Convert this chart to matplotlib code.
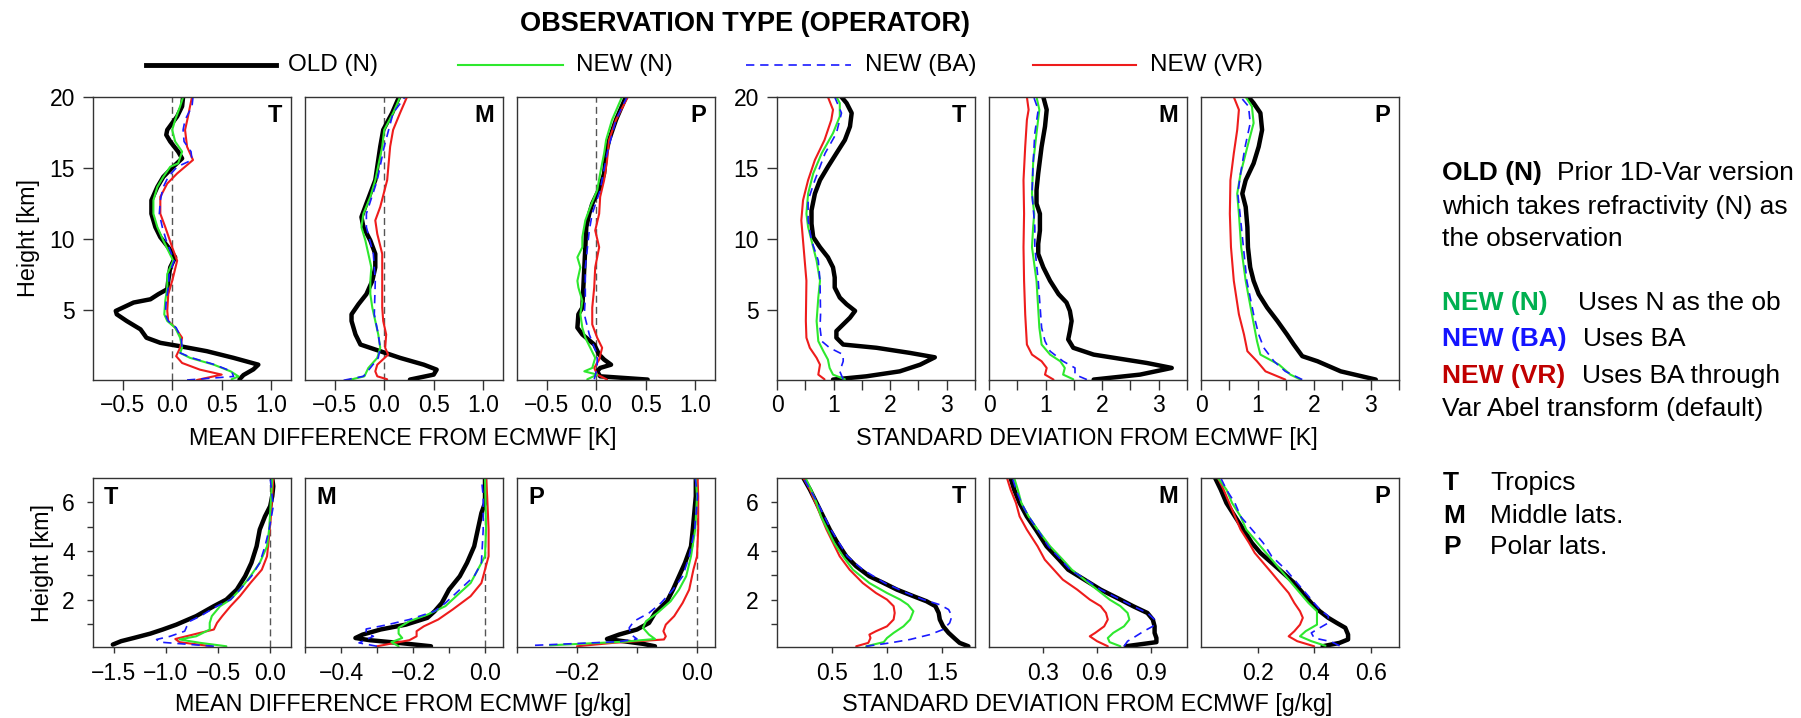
import numpy as np
import matplotlib.pyplot as plt
from matplotlib.lines import Line2D

plt.rcParams['font.family'] = ['Liberation Sans', 'DejaVu Sans']

W, H = 1801, 718

series_names = ['OLD (N)', 'NEW (N)', 'NEW (BA)', 'NEW (VR)']
series_colors = ['#000000', '#2ee82e', '#1a1aff', '#ee1c1c']
series_widths = [3.2, 1.5, 1.2, 1.5]
series_dashes = [None, None, (5, 3.5), None]
draw_order = [0, 3, 1, 2]

# ---- temperature, mean difference (height km, value K) ----
tmean_trop_old = [(0.1, 0.68), (0.4, 0.72), (0.8, 0.82), (1.13, 0.87), (1.61, 0.62), (2.08, 0.35), (2.43, 0.08),
                  (2.67, -0.12), (3.03, -0.26), (3.62, -0.32), (4.21, -0.46), (4.68, -0.56), (4.92, -0.57),
                  (5.51, -0.39), (5.74, -0.22), (6.1, -0.14), (6.45, -0.05), (7.04, -0.04), (7.99, -0.02),
                  (8.7, 0.03), (9.41, -0.04), (10.12, -0.12), (10.83, -0.17), (11.77, -0.21), (12.72, -0.21),
                  (13.66, -0.15), (14.37, -0.09), (15.08, 0.01), (15.67, 0.1), (16.15, 0.06), (16.86, -0.02),
                  (17.33, -0.06), (17.68, -0.05), (18.16, 0.0), (18.63, 0.05), (19.34, 0.1), (20.0, 0.11)]
tmean_trop_n = [(0.1, 0.6), (0.3, 0.67), (0.66, 0.59), (1.13, 0.42), (1.61, 0.18), (1.96, 0.08), (2.32, 0.1),
                (3.03, 0.08), (3.74, 0.03), (4.21, -0.05), (4.68, -0.08), (5.63, -0.07), (6.57, -0.05),
                (7.52, -0.05), (8.46, 0.01), (9.17, -0.04), (9.88, -0.09), (10.83, -0.15), (11.77, -0.19),
                (12.72, -0.19), (13.66, -0.15), (14.37, -0.09), (15.08, -0.02), (15.32, 0.06), (16.15, 0.1),
                (16.86, 0.03), (17.68, 0.0), (18.39, 0.03), (19.34, 0.08), (20.0, 0.11)]
tmean_trop_ba = [(0.05, 0.15), (0.3, 0.62), (0.66, 0.6), (1.13, 0.43), (1.61, 0.2), (1.96, 0.08), (2.32, 0.1),
                 (3.03, 0.09), (3.74, 0.04), (4.21, -0.04), (4.68, -0.07), (5.63, -0.06), (6.57, -0.04),
                 (7.52, -0.03), (8.46, 0.02), (9.17, -0.02), (9.88, -0.06), (10.83, -0.1), (11.77, -0.13),
                 (12.72, -0.12), (13.66, -0.09), (14.37, -0.04), (15.08, 0.05), (15.56, 0.2), (16.15, 0.19),
                 (16.86, 0.12), (17.68, 0.11), (18.39, 0.13), (19.34, 0.2), (20.0, 0.21)]
tmean_trop_vr = [(0.05, 0.25), (0.43, 0.5), (0.78, 0.28), (1.25, 0.1), (1.73, 0.04), (2.32, 0.08), (3.03, 0.1),
                 (3.74, 0.03), (4.21, -0.04), (4.92, -0.05), (6.1, -0.04), (7.04, 0.0), (8.46, 0.05),
                 (9.41, 0.0), (10.83, -0.07), (11.77, -0.12), (12.96, -0.12), (13.9, -0.05), (14.61, 0.05),
                 (15.56, 0.21), (16.5, 0.15), (17.68, 0.13), (18.63, 0.16), (19.34, 0.18), (20.0, 0.2)]

tmean_mid_old = [(0.08, 0.26), (0.43, 0.5), (0.78, 0.53), (1.13, 0.4), (1.61, 0.16), (2.08, -0.04), (2.55, -0.24),
                 (3.26, -0.29), (4.21, -0.33), (4.68, -0.33), (5.39, -0.26), (6.1, -0.18), (7.04, -0.12),
                 (7.99, -0.09), (8.94, -0.09), (9.88, -0.14), (10.83, -0.21), (11.54, -0.23), (12.48, -0.18),
                 (14.14, -0.09), (16.5, -0.04), (17.68, -0.01), (18.87, 0.08), (20.0, 0.15)]
tmean_mid_n = [(0.06, -0.35), (0.31, -0.2), (0.9, -0.16), (1.61, -0.07), (2.32, -0.04), (3.26, -0.06),
               (4.21, -0.09), (5.15, -0.12), (6.1, -0.14), (7.04, -0.14), (7.99, -0.13), (8.94, -0.16),
               (9.88, -0.19), (10.83, -0.23), (11.77, -0.21), (12.96, -0.14), (14.14, -0.09), (16.5, -0.02),
               (17.68, 0.0), (18.87, 0.09), (20.0, 0.16)]
tmean_mid_ba = [(0.03, -0.41), (0.31, -0.21), (0.9, -0.14), (1.61, -0.06), (2.32, -0.04), (3.26, -0.06),
                (4.68, -0.1), (7.04, -0.09), (8.94, -0.11), (10.83, -0.18), (11.77, -0.18), (14.14, -0.07),
                (16.5, 0.0), (18.87, 0.09), (20.0, 0.21)]
tmean_mid_vr = [(0.1, 0.03), (0.31, -0.07), (0.66, -0.09), (1.13, -0.07), (1.84, 0.04), (2.32, 0.01), (3.26, 0.02),
                (4.21, -0.01), (5.15, -0.02), (7.04, -0.02), (8.94, -0.02), (10.35, -0.07), (11.3, -0.09),
                (12.25, -0.04), (14.14, 0.03), (16.5, 0.06), (17.68, 0.09), (18.87, 0.16), (20.0, 0.23)]

tmean_pol_old = [(0.08, 0.52), (0.31, 0.04), (0.66, 0.01), (0.9, 0.04), (1.13, 0.15), (1.49, 0.08), (1.84, 0.03),
                 (2.55, -0.02), (3.26, -0.14), (3.74, -0.19), (4.68, -0.18), (5.15, -0.14), (6.57, -0.13),
                 (7.99, -0.12), (9.41, -0.11), (10.83, -0.1), (11.77, -0.07), (12.48, -0.04), (13.66, 0.04),
                 (14.61, 0.08), (16.03, 0.1), (16.97, 0.13), (18.39, 0.2), (20.0, 0.3)]
tmean_pol_n = [(0.1, -0.09), (0.43, 0.01), (0.66, -0.12), (0.9, -0.04), (1.61, -0.01), (2.32, -0.06),
               (3.03, -0.11), (3.74, -0.14), (4.68, -0.16), (5.63, -0.14), (6.57, -0.18), (7.04, -0.19),
               (7.99, -0.16), (8.7, -0.19), (9.41, -0.14), (10.12, -0.14), (11.3, -0.11), (12.25, -0.06),
               (13.43, 0.01), (14.61, 0.04), (16.03, 0.08), (16.97, 0.1), (18.39, 0.16), (20.0, 0.26)]
tmean_pol_ba = [(0.1, -0.02), (0.9, 0.01), (1.84, 0.01), (3.26, -0.07), (4.68, -0.12), (5.86, -0.11),
                (7.99, -0.11), (10.59, -0.07), (11.77, -0.04), (13.43, 0.04), (16.03, 0.11), (18.39, 0.2),
                (20.0, 0.31)]
tmean_pol_vr = [(0.08, 0.11), (0.43, 0.01), (0.9, -0.02), (1.49, 0.03), (2.32, 0.06), (3.03, 0.01), (3.97, -0.04),
                (5.15, -0.04), (6.57, -0.02), (7.99, -0.01), (9.41, 0.03), (10.59, -0.01), (11.77, 0.03),
                (12.96, 0.04), (14.14, 0.08), (15.56, 0.11), (16.97, 0.13), (18.39, 0.2), (20.0, 0.32)]

# ---- temperature, standard deviation (height km, value K) ----
tstd_trop_old = [(0.08, 0.99), (0.31, 1.58), (0.66, 2.17), (1.13, 2.53), (1.65, 2.79), (1.96, 2.35), (2.32, 1.76),
                 (2.55, 1.17), (3.03, 1.05), (3.5, 1.05), (3.97, 1.17), (4.44, 1.29), (4.92, 1.38), (5.39, 1.23),
                 (5.86, 1.11), (6.57, 1.02), (7.28, 1.02), (7.99, 0.99), (8.7, 0.9), (9.41, 0.76), (10.12, 0.64),
                 (11.06, 0.61), (12.01, 0.61), (13.19, 0.67), (14.14, 0.76), (15.08, 0.9), (16.03, 1.05),
                 (16.97, 1.2), (17.92, 1.29), (18.87, 1.32), (19.57, 1.23), (20.0, 1.14)]
tstd_trop_n = [(0.1, 1.2), (0.43, 0.99), (0.9, 0.93), (1.49, 0.9), (2.08, 0.82), (2.79, 0.73), (4.21, 0.7),
               (5.86, 0.73), (7.04, 0.76), (8.46, 0.7), (9.41, 0.64), (10.83, 0.55), (11.77, 0.52), (13.19, 0.55),
               (14.61, 0.64), (16.03, 0.79), (17.45, 0.99), (18.63, 1.11), (19.57, 1.11), (20.0, 1.05)]
tstd_trop_ba = [(0.1, 1.17), (0.66, 1.11), (1.37, 1.17), (1.84, 1.17), (2.32, 0.93), (2.79, 0.79), (3.74, 0.76),
                (4.68, 0.77), (7.04, 0.76), (8.46, 0.73), (9.88, 0.61), (11.3, 0.55), (12.72, 0.55),
                (14.14, 0.67), (16.03, 0.85), (17.45, 1.05), (18.87, 1.14), (20.0, 1.02)]
tstd_trop_vr = [(0.1, 0.84), (0.43, 0.73), (1.13, 0.76), (1.61, 0.7), (2.32, 0.58), (3.03, 0.52), (4.21, 0.51),
                (7.04, 0.52), (9.41, 0.47), (11.3, 0.43), (12.72, 0.46), (14.14, 0.55), (15.56, 0.67),
                (16.97, 0.84), (18.39, 0.96), (19.1, 0.99), (20.0, 0.9)]

tstd_mid_old = [(0.08, 1.85), (0.43, 2.67), (0.9, 3.23), (1.25, 2.79), (1.84, 1.85), (2.32, 1.49), (2.91, 1.4),
                (3.5, 1.43), (4.21, 1.46), (4.92, 1.43), (5.51, 1.37), (6.1, 1.23), (7.04, 1.08), (7.99, 0.96),
                (8.94, 0.87), (9.65, 0.87), (10.59, 0.9), (11.77, 0.9), (12.48, 0.84), (13.43, 0.84),
                (14.61, 0.87), (16.5, 0.93), (17.92, 0.99), (19.1, 1.02), (20.0, 0.96)]
tstd_mid_n = [(0.1, 1.49), (0.43, 1.31), (0.9, 1.34), (1.37, 1.26), (1.84, 1.08), (2.55, 0.93), (3.74, 0.89),
              (7.04, 0.84), (9.41, 0.76), (10.83, 0.78), (11.77, 0.8), (13.19, 0.76), (15.32, 0.78),
              (17.45, 0.84), (19.1, 0.89), (20.0, 0.84)]
tstd_mid_ba = [(0.08, 1.73), (0.43, 1.52), (0.9, 1.52), (1.37, 1.31), (2.08, 1.08), (2.79, 0.99), (3.74, 0.93),
               (7.04, 0.87), (9.41, 0.81), (10.83, 0.81), (13.19, 0.76), (15.32, 0.78), (17.45, 0.81),
               (19.1, 0.87), (20.0, 0.79)]
tstd_mid_vr = [(0.08, 1.14), (0.43, 0.99), (0.9, 1.02), (1.37, 0.93), (1.84, 0.76), (2.55, 0.67), (4.68, 0.64),
               (7.04, 0.62), (9.41, 0.61), (11.77, 0.62), (14.14, 0.61), (16.5, 0.64), (18.39, 0.67),
               (19.1, 0.7), (20.0, 0.67)]

tstd_pol_old = [(0.08, 3.09), (0.66, 2.47), (1.37, 2.06), (1.73, 1.79), (2.55, 1.64), (3.26, 1.52), (4.21, 1.35),
                (5.15, 1.17), (6.1, 1.02), (7.04, 0.93), (7.99, 0.87), (9.41, 0.83), (10.83, 0.82), (12.25, 0.79),
                (13.19, 0.73), (14.14, 0.79), (15.32, 0.93), (16.5, 1.02), (17.68, 1.08), (18.87, 1.05),
                (19.57, 0.93), (20.0, 0.84)]
tstd_pol_n = [(0.08, 1.76), (0.43, 1.58), (1.13, 1.38), (1.84, 1.05), (2.79, 0.99), (4.68, 0.9), (7.04, 0.79),
              (9.41, 0.71), (11.77, 0.67), (13.19, 0.64), (14.61, 0.7), (16.5, 0.82), (18.16, 0.93),
              (19.34, 0.9), (20.0, 0.79)]
tstd_pol_ba = [(0.08, 1.79), (0.66, 1.49), (1.37, 1.29), (2.32, 1.11), (3.26, 1.02), (4.68, 0.93), (7.04, 0.81),
               (9.41, 0.75), (11.77, 0.69), (13.19, 0.65), (14.61, 0.7), (16.5, 0.78), (18.16, 0.87),
               (19.34, 0.84), (20.0, 0.7)]
tstd_pol_vr = [(0.08, 1.49), (0.66, 1.14), (1.37, 0.99), (2.08, 0.82), (3.26, 0.76), (4.68, 0.67), (7.04, 0.58),
               (9.41, 0.53), (11.77, 0.51), (14.14, 0.52), (16.03, 0.58), (17.68, 0.64), (19.1, 0.67),
               (20.0, 0.58)]

# ---- humidity, mean difference (height km, value g/kg) ----
qmean_trop_old = [(0.15, -1.51), (0.29, -1.43), (0.42, -1.31), (0.6, -1.15), (0.77, -1.03), (0.97, -0.9),
                  (1.32, -0.71), (1.73, -0.54), (2.0, -0.42), (2.41, -0.32), (2.96, -0.24), (3.51, -0.18),
                  (4.19, -0.13), (4.88, -0.1), (5.42, -0.05), (5.84, 0.0), (6.25, 0.02), (6.66, 0.03), (7.0, 0.02)]
qmean_trop_n = [(0.08, -0.42), (0.22, -0.67), (0.36, -0.87), (0.49, -0.71), (0.77, -0.58), (1.04, -0.58),
                (1.32, -0.56), (1.73, -0.48), (2.0, -0.38), (2.41, -0.29), (2.96, -0.19), (3.51, -0.1),
                (4.19, -0.03), (4.88, -0.01), (5.56, 0.0), (7.0, 0.02)]
qmean_trop_ba = [(0.08, -0.54), (0.25, -1.06), (0.36, -1.09), (0.49, -0.96), (0.7, -0.82), (0.9, -0.8),
                 (1.11, -0.77), (1.32, -0.67), (1.73, -0.51), (2.0, -0.38), (2.41, -0.29), (2.96, -0.18),
                 (3.51, -0.1), (4.19, -0.05), (4.88, -0.01), (5.84, 0.03), (7.0, 0.0)]
qmean_trop_vr = [(0.08, -0.56), (0.25, -0.87), (0.38, -0.91), (0.56, -0.74), (0.77, -0.54), (1.04, -0.51),
                 (1.32, -0.46), (1.73, -0.38), (2.14, -0.29), (2.68, -0.19), (3.23, -0.08), (3.78, -0.03),
                 (4.6, -0.01), (5.56, 0.01), (7.0, 0.03)]

qmean_mid_old = [(0.08, -0.15), (0.22, -0.24), (0.33, -0.32), (0.42, -0.36), (0.56, -0.34), (0.77, -0.29),
                 (0.97, -0.22), (1.25, -0.16), (1.52, -0.14), (1.86, -0.12), (2.41, -0.1), (2.96, -0.07),
                 (3.51, -0.05), (4.19, -0.03), (4.88, -0.02), (5.56, -0.01), (5.97, 0.0), (7.0, 0.0)]
qmean_mid_n = [(0.08, -0.24), (0.25, -0.26), (0.42, -0.23), (0.6, -0.24), (0.84, -0.24), (1.11, -0.21),
               (1.38, -0.16), (1.73, -0.11), (2.14, -0.08), (2.68, -0.04), (3.23, -0.02), (3.78, 0.0),
               (4.88, 0.003), (7.0, 0.0)]
qmean_mid_ba = [(0.08, -0.3), (0.22, -0.35), (0.36, -0.33), (0.49, -0.31), (0.63, -0.33), (0.79, -0.33),
                (0.97, -0.27), (1.18, -0.21), (1.52, -0.14), (1.86, -0.11), (2.41, -0.07), (2.96, -0.03),
                (3.51, -0.01), (4.88, -0.005), (6.25, -0.005), (7.0, -0.01)]
qmean_mid_vr = [(0.08, -0.3), (0.22, -0.25), (0.33, -0.21), (0.49, -0.19), (0.7, -0.19), (0.9, -0.17),
                (1.18, -0.13), (1.59, -0.09), (2.14, -0.04), (2.68, -0.01), (3.23, 0.0), (3.78, 0.01),
                (4.88, 0.01), (6.25, 0.006), (7.0, 0.003)]

qmean_pol_old = [(0.08, -0.07), (0.18, -0.09), (0.38, -0.15), (0.56, -0.13), (0.77, -0.1), (1.04, -0.08),
                 (1.45, -0.07), (1.93, -0.05), (2.41, -0.04), (2.96, -0.03), (3.51, -0.02), (4.19, -0.01),
                 (4.88, -0.007), (6.25, -0.002), (7.0, -0.002)]
qmean_pol_n = [(0.12, -0.245), (0.27, -0.12), (0.38, -0.07), (0.56, -0.08), (0.84, -0.09), (1.11, -0.085),
               (1.45, -0.066), (1.93, -0.044), (2.41, -0.03), (2.96, -0.018), (3.78, -0.01), (4.88, -0.003),
               (6.25, 0.0), (7.0, -0.002)]
qmean_pol_ba = [(0.12, -0.27), (0.27, -0.13), (0.38, -0.1), (0.56, -0.11), (0.84, -0.113), (1.11, -0.105),
                (1.45, -0.08), (1.86, -0.06), (2.41, -0.04), (2.96, -0.024), (3.78, -0.013), (4.88, -0.004),
                (6.25, 0.001), (7.0, -0.003)]
qmean_pol_vr = [(0.08, -0.2), (0.22, -0.14), (0.36, -0.055), (0.49, -0.052), (0.7, -0.056), (0.97, -0.052),
                (1.32, -0.038), (1.86, -0.024), (2.41, -0.013), (3.23, -0.006), (3.78, 0.0), (4.88, 0.002),
                (6.25, 0.002), (7.0, 0.001)]

# ---- humidity, standard deviation (height km, value g/kg) ----
qstd_trop_old = [(0.08, 1.74), (0.22, 1.66), (0.38, 1.62), (0.63, 1.56), (0.9, 1.51), (1.18, 1.48), (1.45, 1.47),
                 (1.73, 1.44), (1.93, 1.36), (2.14, 1.24), (2.41, 1.09), (2.68, 0.97), (2.96, 0.84), (3.37, 0.72),
                 (3.78, 0.63), (4.33, 0.55), (4.88, 0.48), (5.42, 0.42), (5.97, 0.36), (6.52, 0.3), (7.0, 0.24)]
qstd_trop_n = [(0.08, 0.81), (0.25, 0.97), (0.42, 1.0), (0.63, 1.06), (0.9, 1.15), (1.18, 1.21), (1.52, 1.24),
               (1.79, 1.19), (2.0, 1.12), (2.27, 1.0), (2.68, 0.84), (3.23, 0.69), (3.78, 0.6), (4.33, 0.52),
               (4.88, 0.46), (5.42, 0.4), (5.97, 0.36), (6.52, 0.31), (7.0, 0.26)]
qstd_trop_ba = [(0.08, 0.81), (0.22, 1.03), (0.36, 1.21), (0.56, 1.39), (0.77, 1.51), (1.04, 1.57), (1.32, 1.59),
                (1.59, 1.56), (1.79, 1.48), (2.0, 1.33), (2.27, 1.18), (2.68, 0.98), (3.23, 0.78), (3.78, 0.64),
                (4.88, 0.49), (5.97, 0.37), (7.0, 0.24)]
qstd_trop_vr = [(0.08, 0.72), (0.22, 0.83), (0.42, 0.85), (0.56, 0.84), (0.7, 0.9), (0.9, 1.0), (1.18, 1.06),
                (1.45, 1.07), (1.73, 1.06), (2.0, 1.0), (2.27, 0.9), (2.68, 0.78), (3.23, 0.66), (3.78, 0.57),
                (4.33, 0.51), (4.88, 0.45), (5.42, 0.4), (5.97, 0.35), (6.52, 0.3), (7.0, 0.24)]

qstd_mid_old = [(0.08, 0.76), (0.25, 0.93), (0.42, 0.93), (0.63, 0.92), (0.9, 0.92), (1.18, 0.91), (1.45, 0.88),
                (1.73, 0.8), (2.0, 0.73), (2.41, 0.62), (2.82, 0.53), (3.23, 0.44), (3.64, 0.39), (4.19, 0.32),
                (4.88, 0.26), (5.42, 0.21), (5.97, 0.17), (6.52, 0.14), (7.0, 0.12)]
qstd_mid_n = [(0.08, 0.73), (0.25, 0.67), (0.42, 0.66), (0.63, 0.69), (0.9, 0.75), (1.18, 0.78), (1.45, 0.77),
              (1.73, 0.73), (2.0, 0.67), (2.41, 0.6), (2.82, 0.53), (3.23, 0.46), (3.64, 0.41), (4.19, 0.34),
              (4.88, 0.27), (5.42, 0.22), (5.97, 0.18), (6.52, 0.16), (7.0, 0.14)]
qstd_mid_ba = [(0.08, 0.75), (0.29, 0.77), (0.42, 0.8), (0.7, 0.86), (0.9, 0.91), (1.18, 0.92), (1.45, 0.88),
               (1.73, 0.8), (2.0, 0.73), (2.41, 0.62), (2.82, 0.54), (3.23, 0.45), (3.64, 0.4), (4.19, 0.33),
               (4.88, 0.27), (5.42, 0.22), (5.97, 0.18), (6.52, 0.15), (7.0, 0.13)]
qstd_mid_vr = [(0.08, 0.66), (0.29, 0.6), (0.49, 0.56), (0.63, 0.59), (0.9, 0.64), (1.18, 0.66), (1.45, 0.65),
               (1.73, 0.62), (2.0, 0.56), (2.41, 0.49), (2.82, 0.41), (3.23, 0.36), (3.64, 0.31), (4.19, 0.27),
               (4.88, 0.21), (5.42, 0.17), (5.97, 0.15), (6.52, 0.12), (7.0, 0.1)]

qstd_pol_old = [(0.08, 0.43), (0.22, 0.49), (0.36, 0.52), (0.56, 0.52), (0.84, 0.51), (1.04, 0.48), (1.25, 0.45),
                (1.52, 0.42), (1.86, 0.39), (2.27, 0.36), (2.68, 0.33), (3.1, 0.29), (3.51, 0.25), (3.92, 0.21),
                (4.33, 0.18), (4.88, 0.15), (5.42, 0.12), (5.97, 0.09), (6.52, 0.07), (7.0, 0.05)]
qstd_pol_n = [(0.1, 0.44), (0.29, 0.39), (0.49, 0.35), (0.7, 0.37), (0.97, 0.41), (1.25, 0.41), (1.52, 0.41),
              (1.86, 0.38), (2.27, 0.35), (2.68, 0.32), (3.1, 0.29), (3.51, 0.26), (3.92, 0.23), (4.33, 0.2),
              (4.88, 0.16), (5.42, 0.14), (5.97, 0.11), (6.52, 0.09), (7.0, 0.06)]
qstd_pol_ba = [(0.1, 0.49), (0.27, 0.46), (0.42, 0.4), (0.63, 0.39), (0.84, 0.42), (1.04, 0.45), (1.32, 0.45),
               (1.59, 0.42), (1.86, 0.4), (2.14, 0.38), (2.68, 0.34), (3.23, 0.3), (3.78, 0.25), (4.33, 0.22),
               (4.88, 0.18), (5.42, 0.14), (5.97, 0.12), (6.52, 0.09), (7.0, 0.07)]
qstd_pol_vr = [(0.08, 0.4), (0.29, 0.34), (0.49, 0.31), (0.7, 0.33), (0.97, 0.35), (1.25, 0.36), (1.52, 0.35),
               (1.86, 0.33), (2.27, 0.31), (2.68, 0.28), (3.1, 0.25), (3.51, 0.22), (3.92, 0.19), (4.33, 0.17),
               (4.88, 0.14), (5.42, 0.12), (5.97, 0.1), (6.52, 0.08), (7.0, 0.06)]

# ---- axis ticks ----
tmean_ticks = [-0.5, 0.0, 0.5, 1.0]
tstd_ticks = [0, 0.5, 1, 1.5, 2, 2.5, 3, 3.5]
tstd_labels = ['0', '', '1', '', '2', '', '3', '']
qmean_trop_ticks = [-1.5, -1.0, -0.5, 0.0]
qmean_mid_ticks = [-0.5, -0.4, -0.3, -0.2, -0.1, 0.0]
qmean_mid_labels = ['', '-0.4', '', '-0.2', '', '0.0']
qmean_pol_ticks = [-0.3, -0.2, -0.1, 0.0]
qmean_pol_labels = ['', '-0.2', '', '0.0']
qstd_trop_ticks = [0.5, 1.0, 1.5]
qstd_mid_ticks = [0.3, 0.6, 0.9]
qstd_pol_ticks = [0.2, 0.4, 0.6]
top_yticks = [5, 10, 15, 20]
bot_yticks = [1, 2, 3, 4, 5, 6]
bot_ylabels = ['', '2', '', '4', '', '6']

col_left = [93, 305, 517, 777, 989, 1201]
col_width = 198
top_row = (97, 380)
bot_row = (478, 647)

fig = plt.figure(figsize=(W / 100, H / 100), dpi=100)


def fmt(v):
    return ('%.1f' % v).replace('-', '\u2212')


def make_axes(col, row):
    y0, y1 = row
    return fig.add_axes([col_left[col] / W, 1 - y1 / H, col_width / W, (y1 - y0) / H])


def draw_panel(ax, curves, xlim, ylim, xticks, xlabels, letter, left_letter, zero_line, top):
    for i in draw_order:
        pts = np.array(curves[i])
        kw = dict(color=series_colors[i], lw=series_widths[i], solid_capstyle='round')
        if series_dashes[i] is not None:
            kw['dashes'] = series_dashes[i]
        ax.plot(pts[:, 1], pts[:, 0], **kw)
    if zero_line:
        ax.axvline(0, color='#555555', lw=1.0, dashes=(5, 3), zorder=0)
    ax.set_xlim(*xlim)
    ax.set_ylim(*ylim)
    ax.set_xticks(xticks)
    ax.set_xticklabels([l.replace('-', '\u2212') for l in xlabels])
    for s in ax.spines.values():
        s.set_color('#333333')
        s.set_linewidth(1.0)
    tl = 7 if top else 4.5
    ax.tick_params(axis='x', direction='out', length=tl, width=1, color='#333333',
                   labelsize=16.5, pad=3 if top else 6.5)
    ax.tick_params(axis='y', direction='out', length=tl, width=1, color='#333333',
                   labelsize=16.5, pad=6 if top else 8.5)
    if left_letter:
        ax.annotate(letter, xy=(0, 1), xycoords='axes fraction', xytext=(11, -8),
                    textcoords='offset pixels', ha='left', va='top', fontsize=17, fontweight='bold')
    else:
        ax.annotate(letter, xy=(1, 1), xycoords='axes fraction', xytext=(-9, -7),
                    textcoords='offset pixels', ha='right', va='top', fontsize=17, fontweight='bold')


regions = ['T', 'M', 'P']
top_mean = [[tmean_trop_old, tmean_trop_n, tmean_trop_ba, tmean_trop_vr],
            [tmean_mid_old, tmean_mid_n, tmean_mid_ba, tmean_mid_vr],
            [tmean_pol_old, tmean_pol_n, tmean_pol_ba, tmean_pol_vr]]
top_std = [[tstd_trop_old, tstd_trop_n, tstd_trop_ba, tstd_trop_vr],
           [tstd_mid_old, tstd_mid_n, tstd_mid_ba, tstd_mid_vr],
           [tstd_pol_old, tstd_pol_n, tstd_pol_ba, tstd_pol_vr]]
bot_mean = [[qmean_trop_old, qmean_trop_n, qmean_trop_ba, qmean_trop_vr],
            [qmean_mid_old, qmean_mid_n, qmean_mid_ba, qmean_mid_vr],
            [qmean_pol_old, qmean_pol_n, qmean_pol_ba, qmean_pol_vr]]
bot_std = [[qstd_trop_old, qstd_trop_n, qstd_trop_ba, qstd_trop_vr],
           [qstd_mid_old, qstd_mid_n, qstd_mid_ba, qstd_mid_vr],
           [qstd_pol_old, qstd_pol_n, qstd_pol_ba, qstd_pol_vr]]

bot_mean_x = [((-1.7, 0.2), qmean_trop_ticks, [fmt(v) for v in qmean_trop_ticks]),
              ((-0.5, 0.05), qmean_mid_ticks, qmean_mid_labels),
              ((-0.3, 0.03), qmean_pol_ticks, qmean_pol_labels)]
bot_std_x = [((0, 1.8), qstd_trop_ticks, [fmt(v) for v in qstd_trop_ticks]),
             ((0, 1.1), qstd_mid_ticks, [fmt(v) for v in qstd_mid_ticks]),
             ((0, 0.7), qstd_pol_ticks, [fmt(v) for v in qstd_pol_ticks])]

for k in range(3):
    # top row: temperature
    ax = make_axes(k, top_row)
    draw_panel(ax, top_mean[k], (-0.8, 1.2), (0.05, 20), tmean_ticks, [fmt(v) for v in tmean_ticks],
               regions[k], False, True, True)
    if k == 0:
        ax.set_yticks(top_yticks)
    else:
        ax.tick_params(axis='y', left=False, labelleft=False)

    ax = make_axes(k + 3, top_row)
    draw_panel(ax, top_std[k], (0, 3.5), (0.05, 20), tstd_ticks, tstd_labels, regions[k], False, False, True)
    if k == 0:
        ax.set_yticks(top_yticks)
    else:
        ax.tick_params(axis='y', left=False, labelleft=False)

    # bottom row: humidity
    ax = make_axes(k, bot_row)
    xl, xt, xlab = bot_mean_x[k]
    draw_panel(ax, bot_mean[k], xl, (0.05, 7), xt, xlab, regions[k], True, True, False)
    if k == 0:
        ax.set_yticks(bot_yticks)
        ax.set_yticklabels(bot_ylabels)
    else:
        ax.tick_params(axis='y', left=False, labelleft=False)

    ax = make_axes(k + 3, bot_row)
    xl, xt, xlab = bot_std_x[k]
    draw_panel(ax, bot_std[k], xl, (0.05, 7), xt, xlab, regions[k], False, False, False)
    if k == 0:
        ax.set_yticks(bot_yticks)
        ax.set_yticklabels(bot_ylabels)
    else:
        ax.tick_params(axis='y', left=False, labelleft=False)


def ftext(x, y, s, **kw):
    fig.text(x / W, 1 - y / H, s, **kw)


# group axis labels
ftext(403, 439, 'MEAN DIFFERENCE FROM ECMWF [K]', ha='center', va='center', fontsize=16.8)
ftext(1087, 439, 'STANDARD DEVIATION FROM ECMWF [K]', ha='center', va='center', fontsize=16.8)
ftext(403, 705, 'MEAN DIFFERENCE FROM ECMWF [g/kg]', ha='center', va='center', fontsize=16.8)
ftext(1087, 705, 'STANDARD DEVIATION FROM ECMWF [g/kg]', ha='center', va='center', fontsize=16.8)
ftext(29, 238, 'Height [km]', ha='center', va='center', rotation=90, fontsize=16.8)
ftext(42, 563, 'Height [km]', ha='center', va='center', rotation=90, fontsize=16.8)

# title and line legend
ftext(745, 24, 'OBSERVATION TYPE (OPERATOR)', ha='center', va='center', fontsize=19.5, fontweight='bold')
leg_line_x = [(146, 276), (458, 563), (746, 851), (1033, 1136)]
leg_text_x = [288, 576, 865, 1150]
leg_y = 65
for i in range(4):
    x0, x1 = leg_line_x[i]
    kw = dict(color=series_colors[i], lw=series_widths[i] + (0.3 if i == 0 else 0))
    if series_dashes[i] is not None:
        kw['dashes'] = series_dashes[i]
    fig.add_artist(Line2D([x0 / W, x1 / W], [1 - leg_y / H, 1 - leg_y / H], transform=fig.transFigure, **kw))
    ftext(leg_text_x[i], leg_y, series_names[i], ha='left', va='center', fontsize=17.5)

# explanatory text on the right
note_colors = ['#000000', '#00b050', '#1414ff', '#c00000']
ftext(1442, 173, 'OLD (N)', ha='left', va='center', fontsize=19, fontweight='bold')
ftext(1557, 173, 'Prior 1D-Var version', ha='left', va='center', fontsize=19)
ftext(1442, 207, 'which takes refractivity (N) as', ha='left', va='center', fontsize=19)
ftext(1442, 239, 'the observation', ha='left', va='center', fontsize=19)
ftext(1442, 303, 'NEW (N)', ha='left', va='center', fontsize=19, fontweight='bold', color=note_colors[1])
ftext(1578, 303, 'Uses N as the ob', ha='left', va='center', fontsize=19)
ftext(1442, 339, 'NEW (BA)', ha='left', va='center', fontsize=19, fontweight='bold', color=note_colors[2])
ftext(1583, 339, 'Uses BA', ha='left', va='center', fontsize=19)
ftext(1442, 376, 'NEW (VR)', ha='left', va='center', fontsize=19, fontweight='bold', color=note_colors[3])
ftext(1582, 376, 'Uses BA through', ha='left', va='center', fontsize=19)
ftext(1442, 409, 'Var Abel transform (default)', ha='left', va='center', fontsize=19)

region_names = ['Tropics', 'Middle lats.', 'Polar lats.']
region_y = [483, 516, 547]
for k in range(3):
    ftext(1443, region_y[k], regions[k], ha='left', va='center', fontsize=19, fontweight='bold')
    ftext(1490, region_y[k], region_names[k], ha='left', va='center', fontsize=19)

fig.savefig('out.png', dpi=100)
